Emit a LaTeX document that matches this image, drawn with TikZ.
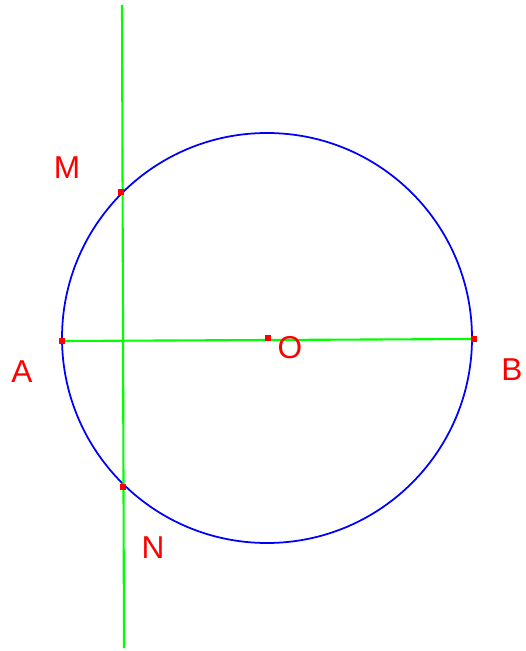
\documentclass[tikz,border=0pt]{standalone}
\usepackage{fontspec}
\setsansfont{Liberation Sans}
\tikzset{pt/.style={fill=red, inner sep=0pt, minimum size=3.8pt},
    lbl/.style={text=red, font=\sffamily\fontsize{18}{20}\selectfont, inner sep=0pt}}
\begin{document}
\begin{tikzpicture}[x=0.02cm, y=-0.02cm]
		\useasboundingbox (0,0) rectangle (525,651);
		\coordinate (T) at (122,5);
		\coordinate (D) at (124,648);
		\coordinate (A) at (62,341);
		\coordinate (B) at (474,339);
		\coordinate (O) at (268,338);
		\coordinate (M) at (121,192);
		\coordinate (N) at (123,487);
		\draw[blue, line width=1pt] (267,338) circle (205);
		\draw[green, line width=1.2pt] (A) -- (B);
		\draw[green, line width=1.2pt] (T) -- (D);
		\foreach \p in {A,B,O,M,N}
			\node[pt] (pt\p) at (\p) {};
		\node[lbl] (lM) at (67,168) {M};
		\node[lbl] (lA) at (22,372) {A};
		\node[lbl] (lB) at (512,370) {B};
		\node[lbl] (lN) at (153,548) {N};
		\node[lbl] (lO) at (290,348) {O};
\end{tikzpicture}
\end{document}
